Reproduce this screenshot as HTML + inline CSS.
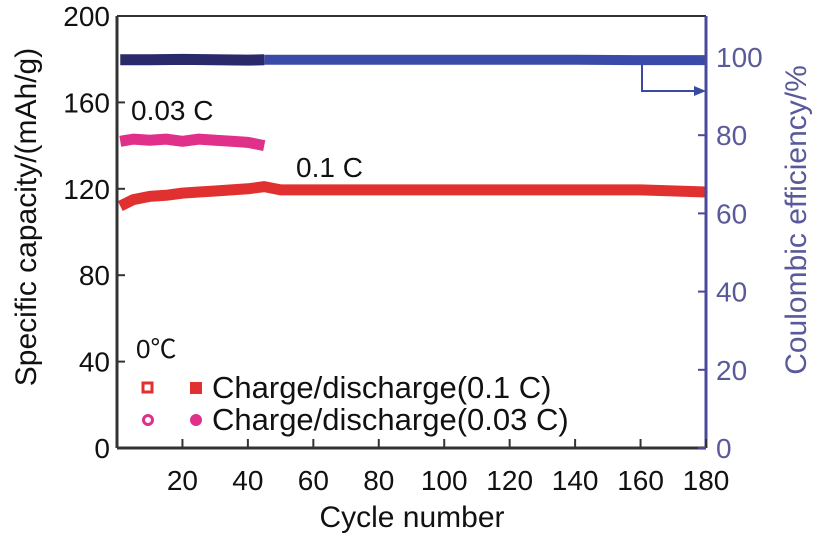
<!DOCTYPE html>
<html><head><meta charset="utf-8"><style>
body{margin:0;background:#fff}
svg{display:block;font-family:"Liberation Sans","Noto Sans CJK SC",sans-serif}
</style></head><body>
<svg id="c" width="824" height="536" viewBox="0 0 824 536">
<rect width="824" height="536" fill="#fff"/>
<g id="marks"></g>
<g id="axes"></g>
<text x="131" y="120" font-size="28" fill="#111">0.03 C</text>
<text x="296" y="177" font-size="28" fill="#111">0.1 C</text>
<text x="136" y="358" font-size="26" fill="#111">0℃</text>
<g>
<rect x="143" y="383" width="9" height="9" fill="none" stroke="#e03030" stroke-width="3"/>
<rect x="190" y="382" width="12" height="12" fill="#e03030"/>
<text x="212" y="398" font-size="31" fill="#111">Charge/discharge(0.1 C)</text>
<circle cx="148" cy="420" r="4.5" fill="none" stroke="#e0308a" stroke-width="3"/>
<circle cx="196" cy="420" r="6" fill="#e0308a"/>
<text x="212" y="430" font-size="31" fill="#111">Charge/discharge(0.03 C)</text>
</g>
<path d="M642 62 V91 H696" fill="none" stroke="#3a4aa0" stroke-width="2"/>
<path d="M694 86 L706 91 L694 96 Z" fill="#3a4aa0"/>
<text x="412" y="527" font-size="30" fill="#111" text-anchor="middle">Cycle number</text>
<text transform="translate(36,217) rotate(-90)" font-size="30" fill="#111" text-anchor="middle">Specific capacity/(mAh/g)</text>
<text transform="translate(806,220) rotate(-90)" font-size="30" fill="#5a5a9a" text-anchor="middle">Coulombic efficiency/%</text>
</svg>
<script>
const xTicks=[20,40,60,80,100,120,140,160,180];
const yLeftTicks=[0,40,80,120,160,200];
const yRightTicks=[0,20,40,60,80,100];
const cyc03=[1,5,10,15,20,25,30,35,40,45];
const cap03=[142,143,142.5,143,142,143,142.5,142,141.5,140];
const cyc01=[1,5,10,15,20,25,30,35,40,45,50,60,80,100,120,140,160,180];
const cap01=[112,115,116.5,117,118,118.5,119,119.5,120,121,119.5,119.5,119.5,119.5,119.5,119.5,119.5,118.5];
const cycEffA=[1,10,20,30,40,45];
const effA=[99.3,99.3,99.4,99.3,99.2,99.3];
const cycEffB=[45,60,80,100,120,140,160,180];
const effB=[99.3,99.3,99.3,99.3,99.3,99.3,99.2,99.2];
const X0=117,X1=706,YB=448,YT=16;
const xs=v=>X0+(v/180)*(X1-X0);
const yl=v=>YB-(v/200)*(YB-YT);
const yr=v=>YB-(v/100)*(YB-57);
const NS="http://www.w3.org/2000/svg";
const marks=document.getElementById('marks'),axes=document.getElementById('axes');
function line(xa,ya,fx,fy,color,w,name){
 const p=document.createElementNS(NS,'polyline');
 p.setAttribute('points',xa.map((x,i)=>fx(x)+','+fy(ya[i])).join(' '));
 p.setAttribute('fill','none');p.setAttribute('stroke',color);p.setAttribute('stroke-width',w);
 p.setAttribute('stroke-linecap','butt');p.setAttribute('stroke-linejoin','round');
 
 
 marks.appendChild(p);
}
line(cycEffB,effB,xs,yr,'#3a4aa8',10,'efficiency-series-0-1c');
line(cycEffA,effA,xs,yr,'#2a2a6a',11,'efficiency-series-0-03c');
line(cyc03,cap03,xs,yl,'#e0308a',11,'capacity-series-0-03c');
line(cyc01,cap01,xs,yl,'#e03030',11,'capacity-series-0-1c');
function el(tag,attrs,name,txt){const e=document.createElementNS(NS,tag);for(const k in attrs)e.setAttribute(k,attrs[k]);
 
 
 if(txt!==undefined)e.textContent=txt;axes.appendChild(e);return e;}
el('line',{x1:X0,y1:YT,x2:X1,y2:YT,stroke:'#333',"stroke-width":2},'plot-top-border');
el('line',{x1:X0,y1:YT,x2:X0,y2:YB,stroke:'#333',"stroke-width":3},'left-axis-line');
el('line',{x1:X0,y1:YB,x2:X1,y2:YB,stroke:'#333',"stroke-width":3},'x-axis-line');
el('line',{x1:X1,y1:YT,x2:X1,y2:YB,stroke:'#4a4a9a',"stroke-width":3},'right-axis-line');
xTicks.forEach(t=>{const x=xs(t);
 el('line',{x1:x,y1:YB,x2:x,y2:YB-9,stroke:'#333',"stroke-width":2},'x-tick');
 el('text',{x:x,y:YB+42,"font-size":28,"text-anchor":"middle",fill:'#111'},'x-tick-label',t);});
yLeftTicks.forEach(t=>{const y=yl(t);
 el('line',{x1:X0,y1:y,x2:X0+8,y2:y,stroke:'#333',"stroke-width":2},'left-tick');
 el('text',{x:X0-7,y:y+10,"font-size":28,"text-anchor":"end",fill:'#111'},'left-tick-label',t);});
yRightTicks.forEach(t=>{const y=yr(t);
 el('line',{x1:X1,y1:y,x2:X1-8,y2:y,stroke:'#4a4a9a',"stroke-width":2},'right-tick');
 el('text',{x:X1+10,y:y+10,"font-size":28,fill:'#5a5a9a'},'right-tick-label',t);});
</script>
</body></html>
